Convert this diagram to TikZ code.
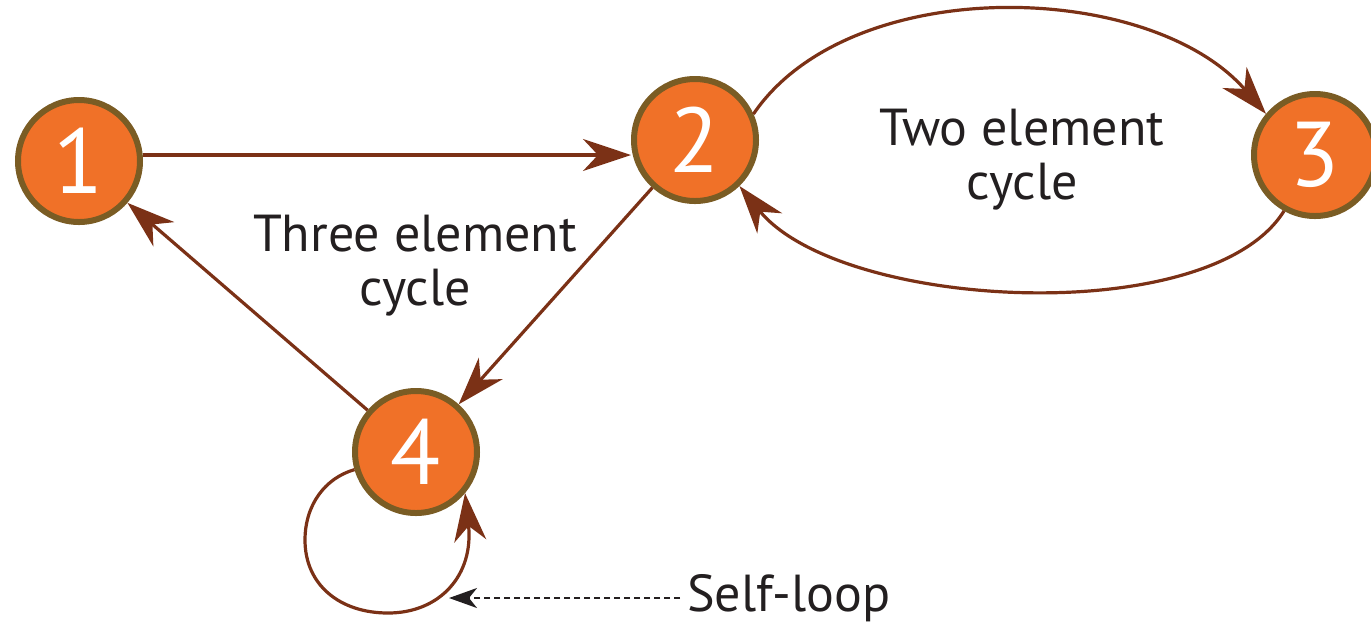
\documentclass[tikz,border=0pt]{standalone}
\usepackage{fontspec}
\setmainfont{PT Sans}
\usetikzlibrary{arrows.meta}
\definecolor{nodefill}{HTML}{F07128}
\definecolor{nodeedge}{HTML}{7A5C24}
\definecolor{edgecol}{HTML}{7B3116}
\definecolor{textcol}{HTML}{231F20}
\tikzset{
  vertex/.style={circle, fill=nodefill, draw=nodeedge, line width=3pt,
    minimum size=61pt, inner sep=0pt, text=white,
    font=\fontsize{46}{46}\selectfont},
  edge/.style={draw=edgecol, line width=1.6pt,
    -{Stealth[length=24pt,width=16pt,inset=7.5pt]}},
  caption/.style={text=textcol, align=center,
    font=\fontsize{26}{27}\selectfont},
  pointer/.style={draw=textcol, line width=1pt, dash pattern=on 3pt off 2pt,
    -{Stealth[length=14pt,width=10pt,inset=4pt]}}
}
\begin{document}
\begin{tikzpicture}[x=0.5pt,y=-0.5pt]
  \useasboundingbox (0,0) rectangle (1371,629);

  % vertices
  \node[vertex] (n1) at (79,161) {1};
  \node[vertex] (n2) at (695,140) {2};
  \node[vertex] (n3) at (1315,155) {3};
  \node[vertex] (n4) at (416,452) {4};

  % cycle captions
  \node[caption] (three) at (415,266) {Three element\\cycle};
  \node[caption] (two) at (1022,160) {Two element\\cycle};
  \node[caption, anchor=west] (selflabel) at (680,598) {Self-loop};

  % three element cycle
  \draw[edge] (n1.east |- 0,155) -- (n2.west |- 0,155);
  \draw[edge] (n2) -- (n4);
  \draw[edge] (n4) -- (n1);

  % two element cycle
  \draw[edge] (n2.24) .. controls (850,-28) and (1150,-20) .. (n3.140);
  \draw[edge] (n3.241) .. controls (1210,330) and (840,310) .. (n2.-46);

  % self-loop on vertex 4
  \draw[edge] (n4.196) .. controls (325,478) and (305,505) .. (305,540)
              .. controls (305,585) and (340,613) .. (388,613)
              .. controls (440,613) and (474,575) .. (n4.-40);

  \coordinate (looptip) at (449,598);
  \draw[pointer] (selflabel.west) -- (looptip);
\end{tikzpicture}
\end{document}
